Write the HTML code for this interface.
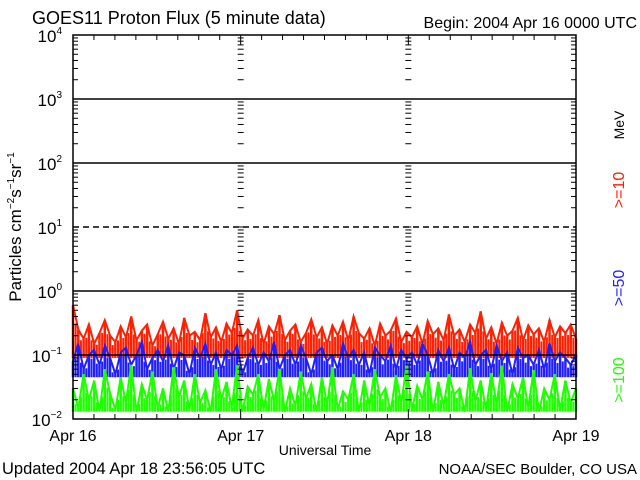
<!DOCTYPE html>
<html><head><meta charset="utf-8"><style>
body{margin:0;background:#fff;}
svg{display:block;font-family:"Liberation Sans",sans-serif;}
</style></head><body>
<svg id="c" width="640" height="480"></svg>
<script>
const dayLabels=["Apr 16","Apr 17","Apr 18","Apr 19"];
const decades=[-2,-1,0,1,2,3,4];
const red=[0.6,0.25,0.18,0.3,0.15,0.22,0.35,0.2,0.16,0.28,0.19,0.4,0.17,0.24,0.3,0.14,0.21,0.33,0.18,0.26,0.15,0.38,0.2,0.23,0.17,0.45,0.19,0.27,0.16,0.31,0.22,0.5,0.18,0.25,0.2,0.35,0.15,0.28,0.21,0.42,0.17,0.24,0.3,0.16,0.22,0.36,0.19,0.27,0.15,0.29,0.2,0.33,0.17,0.4,0.22,0.18,0.26,0.14,0.31,0.2,0.24,0.37,0.16,0.23,0.19,0.28,0.15,0.34,0.21,0.26,0.17,0.43,0.2,0.25,0.16,0.3,0.22,0.48,0.18,0.27,0.15,0.32,0.2,0.24,0.38,0.17,0.29,0.21,0.26,0.16,0.35,0.19,0.28,0.22,0.3,0.18];
const blue=[0.08,0.15,0.06,0.1,0.12,0.07,0.14,0.09,0.05,0.11,0.13,0.07,0.1,0.16,0.06,0.09,0.12,0.08,0.14,0.06,0.11,0.1,0.05,0.13,0.09,0.15,0.07,0.11,0.06,0.12,0.1,0.14,0.05,0.09,0.13,0.07,0.11,0.08,0.16,0.06,0.1,0.12,0.07,0.14,0.09,0.05,0.11,0.13,0.08,0.1,0.06,0.15,0.09,0.12,0.07,0.11,0.05,0.13,0.1,0.08,0.14,0.06,0.12,0.09,0.11,0.07,0.15,0.1,0.05,0.12,0.08,0.13,0.06,0.11,0.09,0.16,0.07,0.1,0.12,0.06,0.14,0.08,0.11,0.05,0.13,0.09,0.1,0.07,0.12,0.06,0.15,0.08,0.11,0.09,0.07,0.1];
const green=[0.03,0.015,0.05,0.02,0.04,0.013,0.06,0.025,0.014,0.045,0.018,0.07,0.013,0.035,0.02,0.055,0.015,0.03,0.013,0.065,0.022,0.04,0.014,0.05,0.018,0.028,0.013,0.06,0.02,0.038,0.015,0.07,0.013,0.032,0.024,0.05,0.014,0.042,0.019,0.06,0.013,0.03,0.016,0.055,0.021,0.035,0.013,0.045,0.017,0.065,0.014,0.027,0.02,0.05,0.013,0.04,0.016,0.06,0.022,0.03,0.013,0.048,0.018,0.07,0.014,0.033,0.02,0.055,0.013,0.038,0.016,0.05,0.024,0.03,0.013,0.062,0.019,0.04,0.014,0.052,0.017,0.068,0.013,0.035,0.021,0.045,0.015,0.058,0.013,0.03,0.02,0.05,0.014,0.04,0.018,0.03];
const floors=[0.09,0.045,0.013];

const L=73,R=576,T=35,B=419;
const NS="http://www.w3.org/2000/svg";
const svg=document.getElementById('c');
function yS(v){return B-(Math.log10(v)+2)/6*(B-T);}
function xS(d){return L+d/3*(R-L);}
function mk(tag,attrs,parent){const e=document.createElementNS(NS,tag);for(const k in attrs)e.setAttribute(k,attrs[k]);(parent||svg).appendChild(e);return e;}
function txt(s,x,y,attrs){const e=mk('text',Object.assign({x:x,y:y,'font-size':15},attrs||{}));e.textContent=s;return e;}

function series(arr,floor,color,name){
  const g=mk('g',{});
  
  
  const n=arr.length;
  arr.forEach((v,i)=>{
    const x=xS(i/(n-1)*3);
    mk('line',{x1:x,x2:x,y1:yS(v),y2:yS(Math.min(floor,v)),stroke:color,'stroke-width':2.5},g);
    if(i<n-1){
      const xm=(x+xS((i+1)/(n-1)*3))/2;
      const vm=Math.max(floor,Math.sqrt(v*arr[i+1])*0.8);
      mk('line',{x1:xm,x2:xm,y1:yS(vm),y2:yS(Math.min(floor,vm)),stroke:color,'stroke-width':2},g);
    }
  });
  let pts=arr.map((v,i)=>xS(i/(n-1)*3).toFixed(1)+','+yS(v).toFixed(1)).join(' ');
  mk('polyline',{points:pts,fill:'none',stroke:color,'stroke-width':2},g);
}
series(red,floors[0],'#ff2000','series-ge10-mev');
series(blue,floors[1],'#2020ff','series-ge50-mev');
series(green,floors[2],'#20ff00','series-ge100-mev');

decades.forEach(d=>{
  if(d===-2||d===4)return;
  const y=yS(Math.pow(10,d));
  const g=mk('line',{x1:L,x2:R,y1:y,y2:y,stroke:'#000','stroke-width':1.5});
  if(d===1)g.setAttribute('stroke-dasharray','6,4');
  
  
});
const fr=mk('rect',{x:L,y:T,width:R-L,height:B-T,fill:'none',stroke:'#000','stroke-width':1.5});


const dayX=[0,1,2,3].map(xS);
for(let d=-2;d<4;d++){
  for(let m=2;m<=9;m++){
    const y=yS(m*Math.pow(10,d));
    [[L,L+5],[R-5,R],[dayX[1]-3,dayX[1]+3],[dayX[2]-3,dayX[2]+3]].forEach(s=>{
      mk('line',{x1:s[0],x2:s[1],y1:y,y2:y,stroke:'#000','stroke-width':1});
    });
  }
  const y=yS(Math.pow(10,d));
  [[dayX[1]-3,dayX[1]+3],[dayX[2]-3,dayX[2]+3]].forEach(s=>mk('line',{x1:s[0],x2:s[1],y1:y,y2:y,stroke:'#000','stroke-width':1}));
}
for(let i=1;i<24;i++){
  const x=xS(i/8);const big=i%8===0;
  mk('line',{x1:x,x2:x,y1:B,y2:B-(big?10:5),stroke:'#000','stroke-width':1});
  mk('line',{x1:x,x2:x,y1:T,y2:T+(big?10:5),stroke:'#000','stroke-width':1});
}
decades.forEach(d=>{
  const y=yS(Math.pow(10,d));
  const t=mk('text',{x:62,y:y+7,'font-size':17,'text-anchor':'end'});
  
  
  t.appendChild(document.createTextNode('10'));
  const s=mk('tspan',{dy:-8,'font-size':10},t);s.textContent=String(d).replace('-','\u2212');
});
dayLabels.forEach((s,i)=>{
  const t=txt(s,xS(i),441,{'text-anchor':'middle','font-size':16});
  
  
});
</script>
<svg width="640" height="480" style="position:absolute;left:0;top:0" font-family="Liberation Sans, sans-serif">
<text x="32" y="24" font-size="18">GOES11 Proton Flux (5 minute data)</text>
<text x="637" y="28" font-size="16" text-anchor="end">Begin: 2004 Apr 16 0000 UTC</text>
<text x="325" y="455" font-size="14" text-anchor="middle">Universal Time</text>
<text x="2" y="474" font-size="16.5">Updated 2004 Apr 18 23:56:05 UTC</text>
<text x="637" y="474" font-size="15" text-anchor="end">NOAA/SEC Boulder, CO USA</text>
<text transform="translate(21,227) rotate(-90)" font-size="17" text-anchor="middle">Particles cm<tspan dy="-7" font-size="10">−2</tspan><tspan dy="7">s</tspan><tspan dy="-7" font-size="10">−1</tspan><tspan dy="7">sr</tspan><tspan dy="-7" font-size="10">−1</tspan></text>
<text transform="translate(624,125) rotate(-90)" font-size="14" text-anchor="middle">MeV</text>
<text transform="translate(624,190) rotate(-90)" font-size="16" fill="#ff2000" text-anchor="middle">&gt;=10</text>
<text transform="translate(624,288) rotate(-90)" font-size="16" fill="#2020ff" text-anchor="middle">&gt;=50</text>
<text transform="translate(624,380) rotate(-90)" font-size="16" fill="#20ff00" text-anchor="middle">&gt;=100</text>
</svg>
</body></html>
